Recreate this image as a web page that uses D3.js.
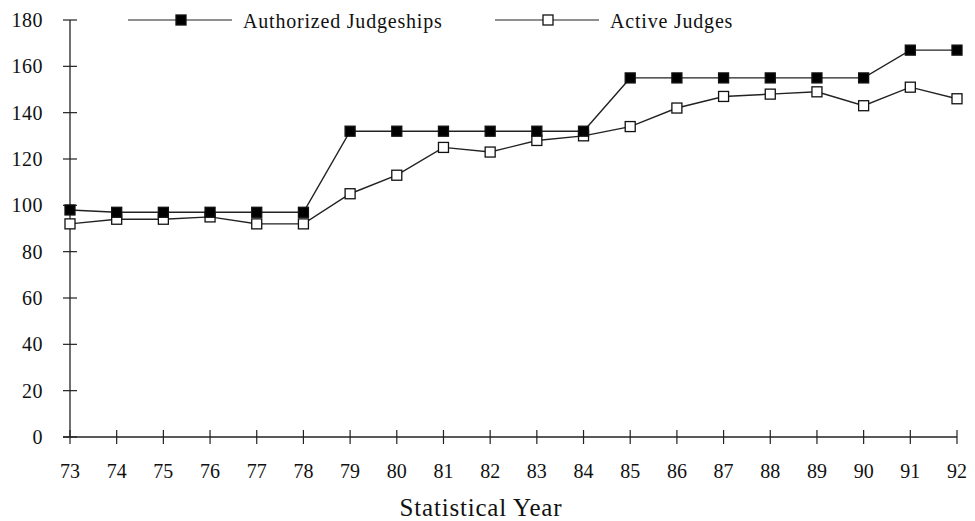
<!DOCTYPE html>
<html><head><meta charset="utf-8">
<script src="https://cdn.jsdelivr.net/npm/d3@7"></script>
<style>body{margin:0;background:#fff}svg{display:block}text{font-family:"Liberation Serif","Times New Roman",serif;fill:#111}</style>
</head><body><svg id="c" width="975" height="521"></svg>
<script>
const years = ["73","74","75","76","77","78","79","80","81","82","83","84","85","86","87","88","89","90","91","92"];
const authorized = [98,97,97,97,97,97,132,132,132,132,132,132,155,155,155,155,155,155,167,167];
const active = [92,94,94,95,92,92,105,113,125,123,128,130,134,142,147,148,149,143,151,146];
const yTicks = [0,20,40,60,80,100,120,140,160,180];
const seriesNames = ["Authorized Judgeships","Active Judges"];

const svg = d3.select("#c");
const x = d3.scalePoint().domain(years).range([70,957]);
const y = d3.scaleLinear().domain([0,180]).range([437,20]);

// y axis
const gy = svg.append("g");
gy.append("line").attr("x1",70).attr("x2",70).attr("y1",y(180)).attr("y2",y(0)).attr("stroke","#222").attr("stroke-width",1.3);
gy.selectAll("line.t").data(yTicks).join("line").attr("class","t")
  .attr("x1",63).attr("x2",77).attr("y1",d=>y(d)).attr("y2",d=>y(d)).attr("stroke","#222").attr("stroke-width",1.2);
gy.selectAll("text").data(yTicks).join("text")
  .attr("x",43).attr("y",d=>y(d)).attr("dy","0.35em").attr("text-anchor","end")
  .attr("font-size",20).attr("letter-spacing",0.5).text(d=>d);

// x axis
const gx = svg.append("g");
gx.append("line").attr("x1",63).attr("x2",x("92")).attr("y1",y(0)).attr("y2",y(0)).attr("stroke","#222").attr("stroke-width",1.3);
gx.selectAll("line.t").data(years).join("line").attr("class","t")
  .attr("x1",d=>x(d)).attr("x2",d=>x(d)).attr("y1",430).attr("y2",444).attr("stroke","#222").attr("stroke-width",1.2);
gx.selectAll("text").data(years).join("text")
  .attr("x",d=>x(d)).attr("y",478).attr("text-anchor","middle")
  .attr("font-size",20).text(d=>d);
svg.append("text").attr("x",481).attr("y",516).attr("text-anchor","middle").attr("font-size",25).attr("letter-spacing",0.8).text("Statistical Year");

const line = d3.line().x((d,i)=>x(years[i])).y(d=>y(d));
const ms = 10;
function drawSeries(data, fill){
  svg.append("path").datum(data).attr("d",line).attr("fill","none").attr("stroke","#222").attr("stroke-width",1.4);
  svg.append("g").selectAll("rect").data(data).join("rect")
    .attr("x",(d,i)=>x(years[i])-ms/2).attr("y",d=>y(d)-ms/2).attr("width",ms).attr("height",ms)
    .attr("fill",fill).attr("stroke","#111").attr("stroke-width",1.3);
}
drawSeries(active,"#fff");
drawSeries(authorized,"#000");

// legend
const legend = [{name:seriesNames[0],fill:"#000",x0:128},{name:seriesNames[1],fill:"#fff",x0:495}];
const lg = svg.append("g");
legend.forEach(l=>{
  lg.append("line").attr("x1",l.x0).attr("x2",l.x0+104).attr("y1",20).attr("y2",20).attr("stroke","#222").attr("stroke-width",1.2);
  lg.append("rect").attr("x",l.x0+53-ms/2).attr("y",20-ms/2).attr("width",ms).attr("height",ms).attr("fill",l.fill).attr("stroke","#111").attr("stroke-width",1.3);
  lg.append("text").attr("x",l.x0+115).attr("y",28).attr("font-size",20).attr("letter-spacing",0.8).text(l.name);
});
</script></body></html>
